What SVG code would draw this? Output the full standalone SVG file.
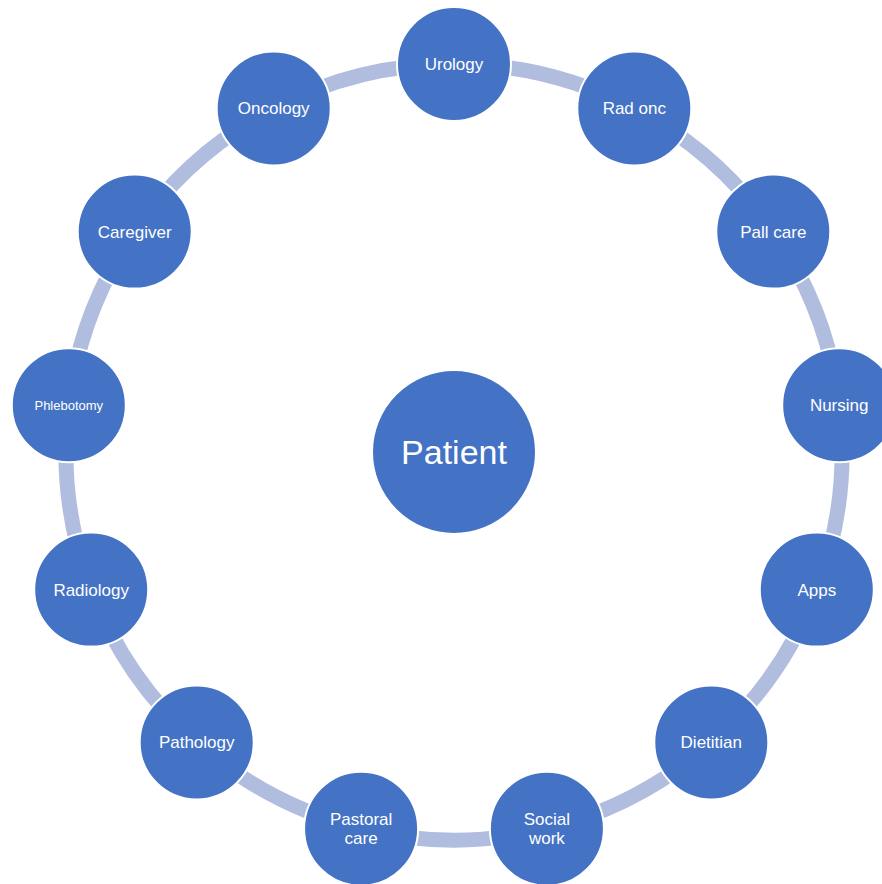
<svg xmlns="http://www.w3.org/2000/svg" width="882" height="884" viewBox="0 0 882 884">
<style>
.arc{fill:none;stroke:#B0BDDF;stroke-width:15}
.node circle{fill:#4472C4;stroke:#FFFFFF;stroke-width:2}
.node text{fill:#FFFFFF;font-family:"Liberation Sans",Arial,sans-serif;font-size:17px;text-anchor:middle}
</style>
<rect width="882" height="884" fill="#FFFFFF"/>
<g id="connectors">
<path class="arc" d="M454,64 A388,388 0 0 1 634.3,108.4"/>
<path class="arc" d="M634.3,108.4 A388,388 0 0 1 773.3,231.6"/>
<path class="arc" d="M773.3,231.6 A388,388 0 0 1 839.2,405.2"/>
<path class="arc" d="M839.2,405.2 A388,388 0 0 1 816.8,589.6"/>
<path class="arc" d="M816.8,589.6 A388,388 0 0 1 711.3,742.4"/>
<path class="arc" d="M711.3,742.4 A388,388 0 0 1 546.9,828.7"/>
<path class="arc" d="M546.9,828.7 A388,388 0 0 1 361.1,828.7"/>
<path class="arc" d="M361.1,828.7 A388,388 0 0 1 196.7,742.4"/>
<path class="arc" d="M196.7,742.4 A388,388 0 0 1 91.2,589.6"/>
<path class="arc" d="M91.2,589.6 A388,388 0 0 1 68.8,405.2"/>
<path class="arc" d="M68.8,405.2 A388,388 0 0 1 134.7,231.6"/>
<path class="arc" d="M134.7,231.6 A388,388 0 0 1 273.7,108.4"/>
<path class="arc" d="M273.7,108.4 A388,388 0 0 1 454,64"/>
</g>
<g id="patient" class="node"><circle cx="454" cy="452" r="82"/><text x="454" y="464" style="font-size:34px">Patient</text></g>
<g id="urology" class="node"><circle cx="454" cy="64" r="57"/><text x="454" y="70">Urology</text></g>
<g id="radonc" class="node"><circle cx="634.3" cy="108.4" r="57"/><text x="634.3" y="114">Rad onc</text></g>
<g id="pallcare" class="node"><circle cx="773.3" cy="231.6" r="57"/><text x="773.3" y="237.6">Pall care</text></g>
<g id="nursing" class="node"><circle cx="839.2" cy="405.2" r="57"/><text x="839.2" y="411.2">Nursing</text></g>
<g id="apps" class="node"><circle cx="816.8" cy="589.6" r="57"/><text x="816.8" y="595.6">Apps</text></g>
<g id="dietitian" class="node"><circle cx="711.3" cy="742.4" r="57"/><text x="711.3" y="748.4">Dietitian</text></g>
<g id="socialwork" class="node"><circle cx="546.9" cy="828.7" r="57"/><text x="546.9" y="825">Social</text><text x="546.9" y="844">work</text></g>
<g id="pastoralcare" class="node"><circle cx="361.1" cy="828.7" r="57"/><text x="361.1" y="825">Pastoral</text><text x="361.1" y="844">care</text></g>
<g id="pathology" class="node"><circle cx="196.7" cy="742.4" r="57"/><text x="196.7" y="748.4">Pathology</text></g>
<g id="radiology" class="node"><circle cx="91.2" cy="589.6" r="57"/><text x="91.2" y="595.6">Radiology</text></g>
<g id="phlebotomy" class="node"><circle cx="68.8" cy="405.2" r="57"/><text x="68.8" y="409.8" style="font-size:13px">Phlebotomy</text></g>
<g id="caregiver" class="node"><circle cx="134.7" cy="231.6" r="57"/><text x="134.7" y="237.6">Caregiver</text></g>
<g id="oncology" class="node"><circle cx="273.7" cy="108.4" r="57"/><text x="273.7" y="114.4">Oncology</text></g>
</svg>
